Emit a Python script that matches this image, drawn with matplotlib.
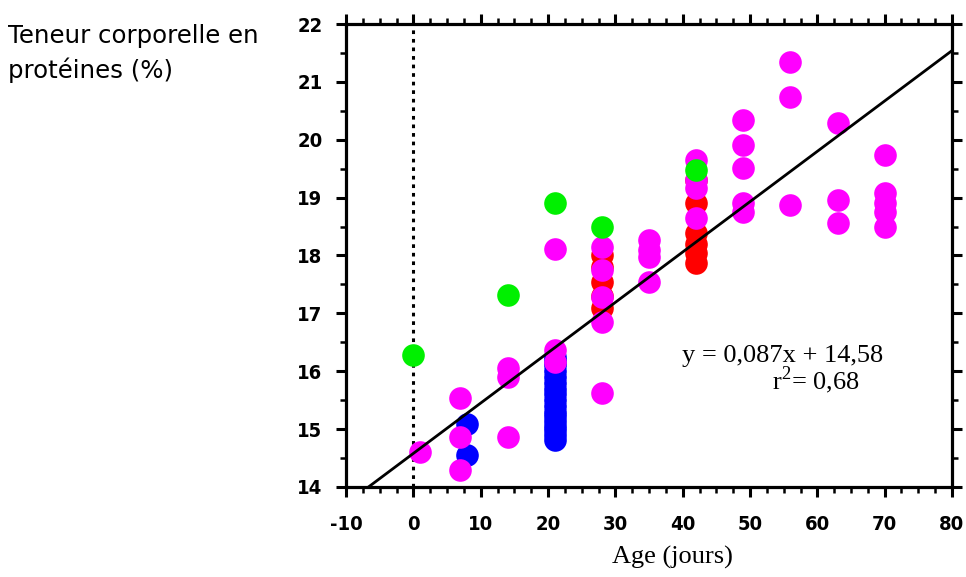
import numpy as np
import matplotlib
matplotlib.use('Agg')
import matplotlib.pyplot as plt
from matplotlib.ticker import MultipleLocator
from matplotlib.font_manager import FontProperties

plt.rcParams['axes.unicode_minus'] = False
plt.rcParams['mathtext.fontset'] = 'custom'
plt.rcParams['mathtext.rm'] = 'Liberation Serif'

# data: age (days), body protein content (%)
blue_x = [8, 8] + [21] * 17
blue_y = [15.09, 14.56, 14.82, 14.9, 14.98, 15.06, 15.14, 15.22, 15.3, 15.4,
          15.5, 15.6, 15.7, 15.8, 15.9, 16.0, 16.1, 16.18, 16.25]

red_x = [28, 28, 28, 28, 28, 42, 42, 42, 42, 42, 42]
red_y = [18.0, 17.8, 17.55, 17.3, 17.1, 19.3, 18.91, 18.39, 18.2, 18.05, 17.87]

mag_x = [1, 7, 7, 7, 14, 14, 14, 21, 21, 21, 28, 28, 28, 28, 28,
         35, 35, 35, 35, 42, 42, 42, 42, 49, 49, 49, 49, 49,
         56, 56, 56, 63, 63, 63, 70, 70, 70, 70, 70]
mag_y = [14.61, 15.54, 14.87, 14.30, 16.05, 15.9, 14.87, 18.11, 16.37, 16.16,
         18.15, 17.75, 17.29, 16.85, 15.62,
         18.27, 18.1, 17.98, 17.54, 19.65, 19.17, 18.65, 19.3,
         20.34, 19.91, 19.51, 18.91, 18.75,
         21.34, 20.74, 18.87, 20.29, 18.96, 18.56,
         19.74, 19.08, 18.91, 18.75, 18.49]

green_x = [0, 14, 21, 28, 42]
green_y = [16.28, 17.32, 18.91, 18.49, 19.48]

slope = 0.087
intercept = 14.58

fig = plt.figure(figsize=(9.66, 5.77), dpi=100)
ax = fig.add_axes([0.3582, 0.156, 0.6273, 0.8024])

ms = 265
ax.scatter(blue_x, blue_y, s=ms, color='#0000ff', linewidths=0, zorder=2)
ax.scatter(red_x, red_y, s=ms, color='#ff0000', linewidths=0, zorder=3)
ax.scatter(mag_x, mag_y, s=ms, color='#ff00ff', linewidths=0, zorder=4)
ax.scatter(green_x, green_y, s=ms, color='#00f000', linewidths=0, zorder=5)

# regression line
xl = np.array([-10, 80])
ax.plot(xl, slope * xl + intercept, color='black', lw=2.0, zorder=6)

# dotted line at age 0
ax.axvline(0, color='black', lw=2.2, linestyle=(0, (1.2, 1.6)), zorder=1)

ax.set_xlim(-10, 80)
ax.set_ylim(14, 22)
ax.xaxis.set_major_locator(MultipleLocator(10))
ax.xaxis.set_minor_locator(MultipleLocator(2.5))
ax.yaxis.set_major_locator(MultipleLocator(1))
ax.yaxis.set_minor_locator(MultipleLocator(0.5))

for s in ax.spines.values():
    s.set_linewidth(2.3)

ax.tick_params(which='both', direction='out', top=True, right=True, width=2.2)
ax.tick_params(which='major', length=7, pad=10)
ax.tick_params(axis='x', which='major', pad=13)
ax.tick_params(which='minor', length=4, width=1.8)

tick_font = FontProperties(family='DejaVu Sans', weight='bold', stretch='condensed', size=14.5)
for lab in ax.get_xticklabels() + ax.get_yticklabels():
    lab.set_fontproperties(tick_font)

ax.set_xlabel('Age (jours)', family='Liberation Serif', fontsize=19)
ax.xaxis.set_label_coords(0.538, -0.128)

fig.text(0.008, 0.958, 'Teneur corporelle en\nprotéines (%)', family='DejaVu Sans',
         fontsize=17.6, va='top', ha='left', linespacing=1.45)

ax.text(0.554, 0.27, 'y = 0,087x + 14,58', transform=ax.transAxes,
        family='Liberation Serif', fontsize=19, ha='left', va='baseline')
ax.text(0.703, 0.21, r'r$^{\mathrm{2}}$= 0,68', transform=ax.transAxes,
        family='Liberation Serif', fontsize=19, ha='left', va='baseline')

fig.savefig('out.png', dpi=100)
